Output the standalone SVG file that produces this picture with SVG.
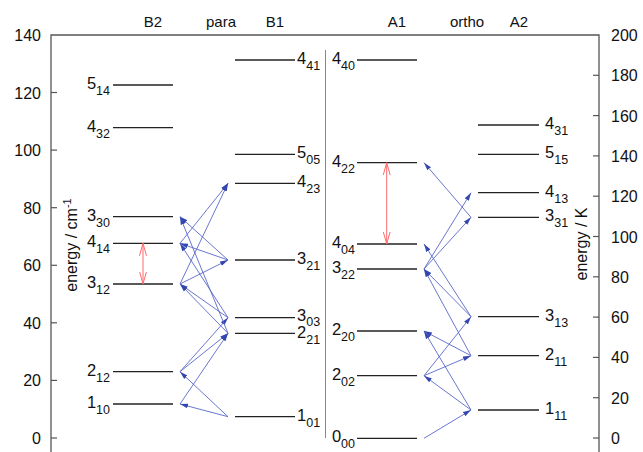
<svg xmlns="http://www.w3.org/2000/svg" width="643" height="452" viewBox="0 0 643 452">
<style>
text{font-family:"Liberation Sans",Arial,sans-serif;fill:#111}
.ax{font-size:16px}
.hd{font-size:15px;text-anchor:middle}
.lv{font-size:16.5px}
.sb{font-size:12.5px}
.frame{stroke:#555;stroke-width:1.3;fill:none}
.tick{stroke:#555;stroke-width:1.2}
.lvl{stroke:#222;stroke-width:1.3}
.tr{stroke:#5868c8;stroke-width:0.9;fill:none;marker-end:url(#ah)}
.rd{stroke:#ff6a6a;stroke-width:1;fill:none;marker-start:url(#rh);marker-end:url(#rh)}
</style>
<defs>
<marker id="ah" viewBox="0 0 8 6" refX="8" refY="3" markerWidth="8" markerHeight="6" markerUnits="userSpaceOnUse" orient="auto"><path d="M0,0.6 L8,3 L0,5.4 z" fill="#3446b0"/></marker>
<marker id="rh" viewBox="0 0 13 8" refX="12.5" refY="4" markerWidth="13" markerHeight="8" markerUnits="userSpaceOnUse" orient="auto-start-reverse"><path d="M0,0.5 L12.5,4 L0,7.5" fill="none" stroke="#ff6a6a" stroke-width="1"/></marker>
</defs>

<g id="axes">
<path class="frame" d="M51,452 V35 H599 V452"/>
<line x1="325.5" y1="50" x2="325.5" y2="438" stroke="#888" stroke-width="1"/>
<g class="tick">
<line x1="51" y1="438" x2="57" y2="438"/><line x1="51" y1="380.4" x2="57" y2="380.4"/><line x1="51" y1="322.8" x2="57" y2="322.8"/><line x1="51" y1="265.3" x2="57" y2="265.3"/><line x1="51" y1="207.7" x2="57" y2="207.7"/><line x1="51" y1="150.1" x2="57" y2="150.1"/><line x1="51" y1="92.5" x2="57" y2="92.5"/>
<line x1="593" y1="438" x2="599" y2="438"/><line x1="593" y1="397.7" x2="599" y2="397.7"/><line x1="593" y1="357.4" x2="599" y2="357.4"/><line x1="593" y1="317.1" x2="599" y2="317.1"/><line x1="593" y1="276.8" x2="599" y2="276.8"/><line x1="593" y1="236.5" x2="599" y2="236.5"/><line x1="593" y1="196.2" x2="599" y2="196.2"/><line x1="593" y1="155.9" x2="599" y2="155.9"/><line x1="593" y1="115.6" x2="599" y2="115.6"/><line x1="593" y1="75.3" x2="599" y2="75.3"/>
</g>
<g class="ax" text-anchor="end">
<text x="41" y="444">0</text><text x="41" y="386.4">20</text><text x="41" y="328.8">40</text><text x="41" y="271.3">60</text><text x="41" y="213.7">80</text><text x="41" y="156.1">100</text><text x="41" y="98.5">120</text><text x="41" y="41">140</text>
</g>
<g class="ax">
<text x="611" y="444">0</text><text x="611" y="403.7">20</text><text x="611" y="363.4">40</text><text x="611" y="323.1">60</text><text x="611" y="282.8">80</text><text x="611" y="242.5">100</text><text x="611" y="202.2">120</text><text x="611" y="161.9">140</text><text x="611" y="121.6">160</text><text x="611" y="81.3">180</text><text x="611" y="41">200</text>
</g>
<text class="ax" text-anchor="middle" transform="translate(77,245) rotate(-90)">energy / cm<tspan dy="-6" font-size="11">-1</tspan></text>
<text class="ax" text-anchor="middle" transform="translate(587,244) rotate(-90)">energy / K</text>
<text class="hd" x="153" y="27">B2</text>
<text class="hd" x="221" y="27">para</text>
<text class="hd" x="275" y="27">B1</text>
<text class="hd" x="397" y="27">A1</text>
<text class="hd" x="467" y="27">ortho</text>
<text class="hd" x="519" y="27">A2</text>
</g>

<g id="B2">
<g id="l514"><line class="lvl" x1="113" y1="85" x2="173" y2="85"/><text class="lv" x="110" y="89" text-anchor="end">5<tspan class="sb" dy="6">14</tspan></text></g>
<g id="l432"><line class="lvl" x1="113" y1="127.7" x2="173" y2="127.7"/><text class="lv" x="110" y="131.7" text-anchor="end">4<tspan class="sb" dy="6">32</tspan></text></g>
<g id="l330"><line class="lvl" x1="113" y1="216.7" x2="173" y2="216.7"/><text class="lv" x="110" y="220.7" text-anchor="end">3<tspan class="sb" dy="6">30</tspan></text></g>
<g id="l414"><line class="lvl" x1="113" y1="243.3" x2="173" y2="243.3"/><text class="lv" x="110" y="247.3" text-anchor="end">4<tspan class="sb" dy="6">14</tspan></text></g>
<g id="l312"><line class="lvl" x1="113" y1="284" x2="173" y2="284"/><text class="lv" x="110" y="288" text-anchor="end">3<tspan class="sb" dy="6">12</tspan></text></g>
<g id="l212"><line class="lvl" x1="113" y1="371.7" x2="173" y2="371.7"/><text class="lv" x="110" y="375.7" text-anchor="end">2<tspan class="sb" dy="6">12</tspan></text></g>
<g id="l110"><line class="lvl" x1="113" y1="404" x2="173" y2="404"/><text class="lv" x="110" y="408" text-anchor="end">1<tspan class="sb" dy="6">10</tspan></text></g>
</g>

<g id="B1">
<g id="l441"><line class="lvl" x1="235" y1="60" x2="295" y2="60"/><text class="lv" x="297" y="64">4<tspan class="sb" dy="6">41</tspan></text></g>
<g id="l505"><line class="lvl" x1="235" y1="154.3" x2="295" y2="154.3"/><text class="lv" x="297" y="158.3">5<tspan class="sb" dy="6">05</tspan></text></g>
<g id="l423"><line class="lvl" x1="235" y1="183.3" x2="295" y2="183.3"/><text class="lv" x="297" y="187.3">4<tspan class="sb" dy="6">23</tspan></text></g>
<g id="l321"><line class="lvl" x1="235" y1="260" x2="295" y2="260"/><text class="lv" x="297" y="264">3<tspan class="sb" dy="6">21</tspan></text></g>
<g id="l303"><line class="lvl" x1="235" y1="317.7" x2="295" y2="317.7"/><text class="lv" x="297" y="320.7">3<tspan class="sb" dy="5.5">03</tspan></text></g>
<g id="l221"><line class="lvl" x1="235" y1="333.3" x2="295" y2="333.3"/><text class="lv" x="297" y="338.3">2<tspan class="sb" dy="6">21</tspan></text></g>
<g id="l101"><line class="lvl" x1="235" y1="416.7" x2="295" y2="416.7"/><text class="lv" x="297" y="420.7">1<tspan class="sb" dy="6">01</tspan></text></g>
</g>

<g id="A1">
<g id="l440"><line class="lvl" x1="357" y1="60" x2="417" y2="60"/><text class="lv" x="355" y="64" text-anchor="end">4<tspan class="sb" dy="6">40</tspan></text></g>
<g id="l422"><line class="lvl" x1="357" y1="162.7" x2="417" y2="162.7"/><text class="lv" x="355" y="166.7" text-anchor="end">4<tspan class="sb" dy="6">22</tspan></text></g>
<g id="l404"><line class="lvl" x1="357" y1="244" x2="417" y2="244"/><text class="lv" x="355" y="248" text-anchor="end">4<tspan class="sb" dy="6">04</tspan></text></g>
<g id="l322"><line class="lvl" x1="357" y1="269" x2="417" y2="269"/><text class="lv" x="355" y="273" text-anchor="end">3<tspan class="sb" dy="6">22</tspan></text></g>
<g id="l220"><line class="lvl" x1="357" y1="331" x2="417" y2="331"/><text class="lv" x="355" y="335" text-anchor="end">2<tspan class="sb" dy="6">20</tspan></text></g>
<g id="l202"><line class="lvl" x1="357" y1="375.7" x2="417" y2="375.7"/><text class="lv" x="355" y="379.7" text-anchor="end">2<tspan class="sb" dy="6">02</tspan></text></g>
<g id="l000"><line class="lvl" x1="357" y1="438.3" x2="417" y2="438.3"/><text class="lv" x="355" y="442.3" text-anchor="end">0<tspan class="sb" dy="6">00</tspan></text></g>
</g>

<g id="A2">
<g id="l431"><line class="lvl" x1="478" y1="125" x2="539" y2="125"/><text class="lv" x="545" y="129">4<tspan class="sb" dy="6">31</tspan></text></g>
<g id="l515"><line class="lvl" x1="478" y1="154.3" x2="539" y2="154.3"/><text class="lv" x="545" y="158.3">5<tspan class="sb" dy="6">15</tspan></text></g>
<g id="l413"><line class="lvl" x1="478" y1="192.7" x2="539" y2="192.7"/><text class="lv" x="545" y="196.7">4<tspan class="sb" dy="6">13</tspan></text></g>
<g id="l331"><line class="lvl" x1="478" y1="217.3" x2="539" y2="217.3"/><text class="lv" x="545" y="221.3">3<tspan class="sb" dy="6">31</tspan></text></g>
<g id="l313"><line class="lvl" x1="478" y1="316.7" x2="539" y2="316.7"/><text class="lv" x="545" y="320.7">3<tspan class="sb" dy="6">13</tspan></text></g>
<g id="l211"><line class="lvl" x1="478" y1="355.7" x2="539" y2="355.7"/><text class="lv" x="545" y="359.7">2<tspan class="sb" dy="6">11</tspan></text></g>
<g id="l111"><line class="lvl" x1="478" y1="410" x2="539" y2="410"/><text class="lv" x="545" y="414">1<tspan class="sb" dy="6">11</tspan></text></g>
</g>

<g id="connectors">
<line class="rd" x1="143" y1="284" x2="143" y2="243.3"/>
<line class="rd" x1="386.7" y1="244" x2="386.7" y2="162.7"/>
<line class="tr" x1="228" y1="416.7" x2="180" y2="404"/>
<line class="tr" x1="228" y1="416.7" x2="180" y2="371.7"/>
<line class="tr" x1="180" y1="404" x2="228" y2="333.3"/>
<line class="tr" x1="180" y1="371.7" x2="228" y2="333.3"/>
<line class="tr" x1="180" y1="371.7" x2="228" y2="317.7"/>
<line class="tr" x1="228" y1="333.3" x2="180" y2="284"/>
<line class="tr" x1="228" y1="317.7" x2="180" y2="284"/>
<line class="tr" x1="228" y1="317.7" x2="180" y2="243.3"/>
<line class="tr" x1="228" y1="333.3" x2="180" y2="216.7"/>
<line class="tr" x1="180" y1="284" x2="228" y2="260"/>
<line class="tr" x1="228" y1="260" x2="180" y2="243.3"/>
<line class="tr" x1="228" y1="260" x2="180" y2="216.7"/>
<line class="tr" x1="180" y1="243.3" x2="228" y2="183.3"/>
<line class="tr" x1="180" y1="284" x2="228" y2="183.3"/>
<line class="tr" x1="424" y1="438.3" x2="471" y2="410"/>
<line class="tr" x1="471" y1="410" x2="424" y2="375.7"/>
<line class="tr" x1="471" y1="410" x2="424" y2="331"/>
<line class="tr" x1="424" y1="375.7" x2="471" y2="355.7"/>
<line class="tr" x1="424" y1="375.7" x2="471" y2="316.7"/>
<line class="tr" x1="471" y1="355.7" x2="424" y2="331"/>
<line class="tr" x1="471" y1="355.7" x2="424" y2="269"/>
<line class="tr" x1="471" y1="316.7" x2="424" y2="269"/>
<line class="tr" x1="471" y1="316.7" x2="424" y2="244"/>
<line class="tr" x1="424" y1="269" x2="471" y2="217.3"/>
<line class="tr" x1="424" y1="269" x2="471" y2="192.7"/>
<line class="tr" x1="471" y1="217.3" x2="424" y2="162.7"/>
</g>
</svg>
